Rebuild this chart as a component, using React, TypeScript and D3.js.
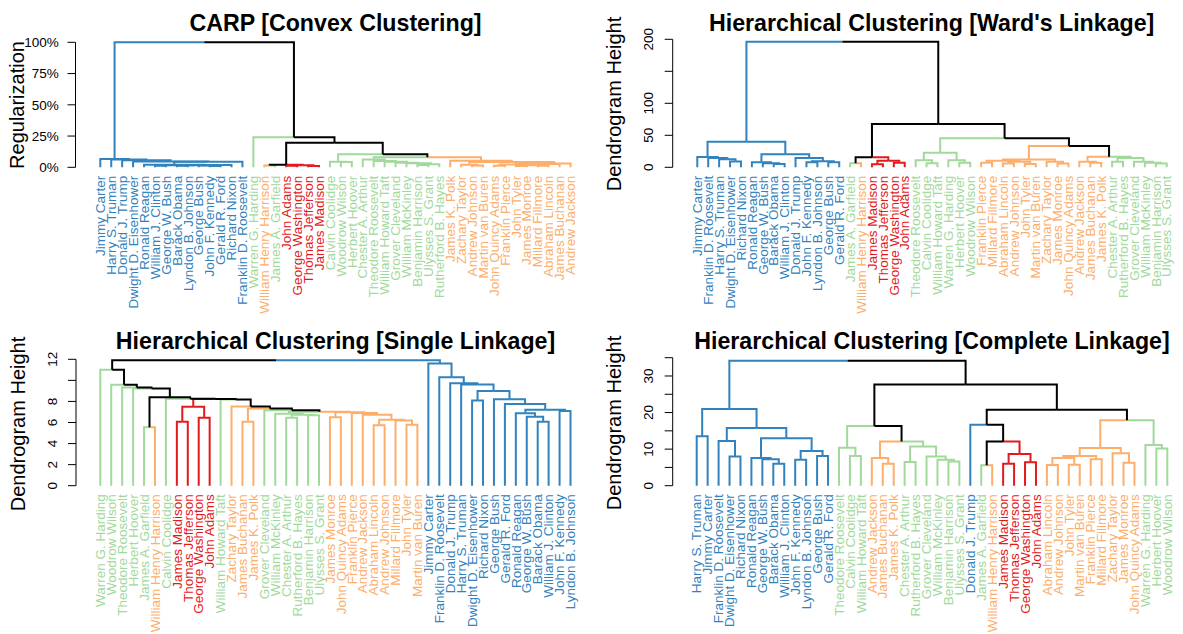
import React from "react";
import * as d3 from "d3";

const W = 1183;
const H = 634;

// ---------- data ----------
const NAMES: Record<string, string> = {
  Wash: "George Washington", JAdm: "John Adams", Jeff: "Thomas Jefferson", Madi: "James Madison",
  Monr: "James Monroe", JQA: "John Quincy Adams", Jack: "Andrew Jackson", VanB: "Martin van Buren",
  WHH: "William Henry Harrison", Tyle: "John Tyler", Polk: "James K. Polk", Tayl: "Zachary Taylor",
  Fill: "Millard Fillmore", Pier: "Franklin Pierce", Buch: "James Buchanan", Linc: "Abraham Lincoln",
  AJoh: "Andrew Johnson", Gran: "Ulysses S. Grant", Haye: "Rutherford B. Hayes", Garf: "James A. Garfield",
  Arth: "Chester A. Arthur", Clev: "Grover Cleveland", BHar: "Benjamin Harrison", McKi: "William McKinley",
  TR: "Theodore Roosevelt", Taft: "William Howard Taft", Wils: "Woodrow Wilson", Hard: "Warren G. Harding",
  Cool: "Calvin Coolidge", Hoov: "Herbert Hoover", FDR: "Franklin D. Roosevelt", Trum: "Harry S. Truman",
  Eise: "Dwight D. Eisenhower", JFK: "John F. Kennedy", LBJ: "Lyndon B. Johnson", Nixo: "Richard Nixon",
  Ford: "Gerald R. Ford", Cart: "Jimmy Carter", Reag: "Ronald Reagan", GHWB: "George Bush",
  Clin: "William J. Clinton", GWB: "George W. Bush", Obam: "Barack Obama", DJT: "Donald J. Trump",
};

const blueGroup = ["Cart", "Trum", "DJT", "Eise", "Reag", "Clin", "GWB", "Obam", "LBJ", "GHWB", "JFK", "Ford", "Nixo", "FDR"];
const greenGroup = ["Hard", "Garf", "Cool", "Wils", "Hoov", "Arth", "TR", "Taft", "Clev", "McKi", "BHar", "Gran", "Haye"];
const orangeGroup = ["WHH", "Polk", "Tayl", "AJoh", "VanB", "JQA", "Pier", "Tyle", "Monr", "Fill", "Linc", "Buch", "Jack"];
const redGroup = ["JAdm", "Wash", "Jeff", "Madi"];

type Tree = string | [number, Tree, Tree];

// Trees: [merge height, left, right]

// CARP (regularization, %)
const carpBlueCore: Tree = [2.0, "Reag", [1.9, [1.7, [1.2, "Clin", "GWB"], [1.6, [1.3, "Obam", "LBJ"], [1.4, "GHWB", [1.0, "JFK", "Ford"]]]], "Nixo"]];
const carpBlue: Tree = [6.6, "Cart", [6.2, "Trum", [5.6, "DJT", [4.6, "Eise", [4.4, carpBlueCore, "FDR"]]]]];
const carpRed: Tree = [2.0, [1.5, "WHH", "Garf"], [1.6, [1.2, "JAdm", "Wash"], [1.0, "Jeff", "Madi"]]];
const carpGreen2: Tree = [6.3, "Arth", [5.1, "TR", [4.5, "Taft", [3.7, "Clev", [3.2, "McKi", [2.4, [1.9, "BHar", "Gran"], "Haye"]]]]]];
const carpOrangeR: Tree = [3.0, [2.6, [2.2, [1.2, "JQA", "Pier"], [1.6, [1.0, "Tyle", "Monr"], [1.3, "Fill", "Linc"]]], "Buch"], "Jack"];
const carpOrange: Tree = [5.3, "Polk", [4.3, [2.0, "Tayl", [1.5, "AJoh", "VanB"]], carpOrangeR]];
const carpTree: Tree = [100, carpBlue, [24, "Hard", [19.7, carpRed, [10.4, [4.5, "Cool", [4.3, "Wils", "Hoov"]], [8.0, carpGreen2, carpOrange]]]]];

// Ward's linkage
const wardBlueL: Tree = [16, "Cart", [14.5, "FDR", [12.5, "Trum", [9, "Eise", "Nixo"]]]];
const wardBlueR: Tree = [20.5, [7.8, "Reag", [6.3, "GWB", [5.2, "Obam", "Clin"]]], [14.5, "DJT", [9.4, [7.8, "JFK", "LBJ"], [7.8, "GHWB", "Ford"]]]];
const wardRedPart: Tree = [15.6, [6.2, "Garf", "WHH"], [10.4, [4.6, "Madi", "Jeff"], [7.3, "Wash", "JAdm"]]];
const wardGreenA: Tree = [22.9, [11, "TR", [6.2, "Cool", "Taft"]], [11, "Hard", [7.3, "Hoov", "Wils"]]];
const wardOrangeA: Tree = [12, [10.4, [7.2, "Pier", "Fill"], [8.8, [6, "Linc", "AJoh"], [5, "Tyle", "VanB"]]], [8.5, "Tayl", [6, "Monr", "JQA"]]];
const wardRight3: Tree = [16.6, [8.8, "Jack", [7.2, "Buch", "Polk"]], [14.5, [8.8, "Arth", "Haye"], [8.8, "Clev", [7.2, "McKi", [6, "BHar", "Gran"]]]]];
const wardTree: Tree = [196, [40, wardBlueL, wardBlueR], [67.7, wardRedPart, [45.3, wardGreenA, [33.3, wardOrangeA, wardRight3]]]];

// Single linkage
const singleBlueCore: Tree = [8.2, "GHWB", [7.75, "Ford", [7.22, [6.87, "Reag", [6.55, "GWB", [6.08, "Obam", "Clin"]]], [7.1, "JFK", "LBJ"]]]];
const singleBlue: Tree = [11.6, "Cart", [10.3, "FDR", [9.72, "DJT", [9.6, "Trum", [9.0, [8.1, "Eise", "Nixo"], singleBlueCore]]]]];
const singleOrange: Tree = [6.97, [6.5, "Monr", "JQA"], [6.9, "Pier", [6.74, "Jack", [6.27, [5.73, "Linc", "AJoh"], [6.2, "Fill", [5.79, "Tyle", "VanB"]]]]]];
const singleGreen2: Tree = [6.84, "McKi", [6.74, [6.46, "Arth", "Haye"], [6.68, "BHar", "Gran"]]];
const singleMid: Tree = [8.18, "Taft", [7.52, "Tayl", [7.33, [6.07, "Buch", "Polk"], [7.17, "Clev", [7.03, singleGreen2, singleOrange]]]]];
const singleRed: Tree = [7.5, [6.07, "Madi", "Jeff"], [6.46, "Wash", "JAdm"]];
const singleLeft: Tree = [11.0, "Hard", [9.58, "Wils", [9.33, "TR", [9.23, "Hoov", [8.4, [5.55, "Garf", "WHH"], [8.25, "Cool", [8.22, singleRed, singleMid]]]]]]];
const singleTree: Tree = [11.9, singleLeft, singleBlue];

// Complete linkage
const completeBlue: Tree = [21, [13.5, "Trum", "Cart"], [15.8, [12.2, "FDR", [8, "Eise", "Nixo"]], [13, [7.56, "Reag", [7.2, "GWB", [6, "Obam", "Clin"]]], [9.5, [7.1, "JFK", "LBJ"], [8.1, "GHWB", "Ford"]]]]];
const completeGreenO: Tree = [16.3, [10.4, "TR", [8.1, "Cool", "Taft"]], [12.1, [7.56, "Jack", [6, "Buch", "Polk"]], [10.7, [6.5, "Arth", "Haye"], [8, "Clev", [7.1, "McKi", [6.6, "BHar", "Gran"]]]]]];
const completeRedPart: Tree = [16.7, "DJT", [12.1, [5.6, "Garf", "WHH"], [8.7, [6, "Madi", "Jeff"], [6.4, "Wash", "JAdm"]]]];
const completeOrangeG: Tree = [17.9, [10.3, [8.1, [7.6, [5.65, "Linc", "AJoh"], [5.7, "Tyle", "VanB"]], [7.2, "Pier", "Fill"]], [8.85, "Tayl", [6.3, "Monr", "JQA"]]], [11.1, "Hard", [10.2, "Hoov", "Wils"]]];
const completeTree: Tree = [34.2, completeBlue, [27.7, completeGreenO, [20.8, completeRedPart, completeOrangeG]]];

const carpTicks = [0, 25, 50, 75, 100];
const carpTickLabels = ["0%", "25%", "50%", "75%", "100%"];
const wardTicks = [0, 50, 100, 150, 200];
const wardTickLabels = ["0", "50", "100", "", "200"];
const singleTicks = [0, 2, 4, 6, 8, 10, 12];
const singleTickLabels = ["0", "2", "4", "6", "8", "", "12"];
const completeTicks = [0, 5, 10, 15, 20, 25, 30, 35];
const completeTickLabels = ["0", "", "10", "", "20", "", "30", ""];

// ---------- styling / layout ----------
const COLORS: Record<string, string> = { blue: "#3182BD", green: "#A1D99B", orange: "#FDAE6B", red: "#E31A1C" };
const FONT = "'Liberation Sans', Arial, Helvetica, sans-serif";
const LABEL_SIZE = 13.5;

const groupOf: Record<string, string> = {};
blueGroup.forEach((k) => (groupOf[k] = "blue"));
greenGroup.forEach((k) => (groupOf[k] = "green"));
orangeGroup.forEach((k) => (groupOf[k] = "orange"));
redGroup.forEach((k) => (groupOf[k] = "red"));

type Panel = {
  title: string; ylab: string; tree: Tree; ticks: number[]; tickLabels: string[]; rotTicks: boolean;
  axisX: number; leafX: [number, number]; yZero: number; yTopPx: number; yTopVal: number;
  titleX: number; titleY: number; ylabY: number;
};

const panels: Panel[] = [
  { title: "CARP [Convex Clustering]", ylab: "Regularization", tree: carpTree, ticks: carpTicks, tickLabels: carpTickLabels,
    rotTicks: false, axisX: 75.5, leafX: [100.3, 570.5], yZero: 167.3, yTopPx: 42.3, yTopVal: 100, titleX: 335.5, titleY: 31, ylabY: 105 },
  { title: "Hierarchical Clustering [Ward's Linkage]", ylab: "Dendrogram Height", tree: wardTree, ticks: wardTicks, tickLabels: wardTickLabels,
    rotTicks: true, axisX: 672.7, leafX: [697.3, 1166.7], yZero: 167.3, yTopPx: 39.3, yTopVal: 200, titleX: 931.7, titleY: 31, ylabY: 104 },
  { title: "Hierarchical Clustering [Single Linkage]", ylab: "Dendrogram Height", tree: singleTree, ticks: singleTicks, tickLabels: singleTickLabels,
    rotTicks: true, axisX: 76, leafX: [100.3, 570.5], yZero: 485.7, yTopPx: 359.3, yTopVal: 12, titleX: 335.5, titleY: 348.5, ylabY: 424 },
  { title: "Hierarchical Clustering [Complete Linkage]", ylab: "Dendrogram Height", tree: completeTree, ticks: completeTicks, tickLabels: completeTickLabels,
    rotTicks: true, axisX: 672.7, leafX: [696.7, 1167.3], yZero: 485.7, yTopPx: 357.7, yTopVal: 35, titleX: 932, titleY: 348.5, ylabY: 423 },
];

type Seg = { d: string; color: string };
type Leaf = { x: number; key: string };

function layout(tree: Tree, x: d3.ScaleLinear<number, number>, y: d3.ScaleLinear<number, number>) {
  const segs: Seg[] = [];
  const leaves: Leaf[] = [];
  let idx = 0;
  function walk(t: Tree): { x: number; h: number; group: string | null } {
    if (typeof t === "string") {
      const px = x(idx++);
      leaves.push({ x: px, key: t });
      return { x: px, h: 0, group: groupOf[t] };
    }
    const l = walk(t[1]);
    const r = walk(t[2]);
    const nx = (l.x + r.x) / 2;
    const h = t[0];
    for (const c of [l, r]) {
      segs.push({
        d: `M${nx},${y(h)}H${c.x}V${y(c.h)}`,
        color: c.group ? COLORS[c.group] : "#000000",
      });
    }
    const g = l.group && l.group === r.group ? l.group : null;
    return { x: nx, h, group: g };
  }
  walk(tree);
  return { segs, leaves };
}

function PanelView({ p }: { p: Panel }) {
  const x = d3.scaleLinear().domain([0, 43]).range(p.leafX);
  const y = d3.scaleLinear().domain([0, p.yTopVal]).range([p.yZero, p.yTopPx]);
  const { segs, leaves } = layout(p.tree, x, y);
  const ax = p.axisX;
  return (
    <g>
      <text x={p.titleX} y={p.titleY} textAnchor="middle" fontWeight="bold" fontSize={23.2} fontFamily={FONT} fill="#000">
        {p.title}
      </text>
      <text transform={`translate(${ax - 51.5},${p.ylabY}) rotate(-90)`} textAnchor="middle" fontSize={20} fontFamily={FONT} fill="#000">
        {p.ylab}
      </text>
      <line x1={ax} x2={ax} y1={y(p.ticks[0])} y2={y(p.ticks[p.ticks.length - 1])} stroke="#000" strokeWidth={1} />
      {p.ticks.map((t, i) => (
        <g key={i}>
          <line x1={ax - 8} x2={ax} y1={y(t)} y2={y(t)} stroke="#000" strokeWidth={1} />
          {p.tickLabels[i] !== "" &&
            (p.rotTicks ? (
              <text transform={`translate(${ax - 19.5},${y(t)}) rotate(-90)`} textAnchor="middle" fontSize={LABEL_SIZE} fontFamily={FONT} fill="#000">
                {p.tickLabels[i]}
              </text>
            ) : (
              <text x={ax - 16.7} y={y(t)} dy="0.35em" textAnchor="end" fontSize={LABEL_SIZE} fontFamily={FONT} fill="#000">
                {p.tickLabels[i]}
              </text>
            ))}
        </g>
      ))}
      {segs.map((s, i) => (
        <path key={i} d={s.d} fill="none" stroke={s.color} strokeWidth={2} strokeLinecap="butt" strokeLinejoin="miter" />
      ))}
      {leaves.map((l, i) => (
        <text key={i} transform={`translate(${l.x},${p.yZero + 8.5}) rotate(-90)`} dy="0.35em" textAnchor="end"
          fontSize={LABEL_SIZE} fontFamily={FONT} fill={COLORS[groupOf[l.key]]}>
          {NAMES[l.key]}
        </text>
      ))}
    </g>
  );
}

export default function App() {
  return (
    <div style={{ position: "absolute", left: 0, top: 0, width: W, height: H, background: "#fff" }}>
      <svg width={W} height={H} viewBox={`0 0 ${W} ${H}`} style={{ display: "block" }}>
        <rect x={0} y={0} width={W} height={H} fill="#fff" />
        {panels.map((p, i) => (
          <PanelView key={i} p={p} />
        ))}
      </svg>
    </div>
  );
}
